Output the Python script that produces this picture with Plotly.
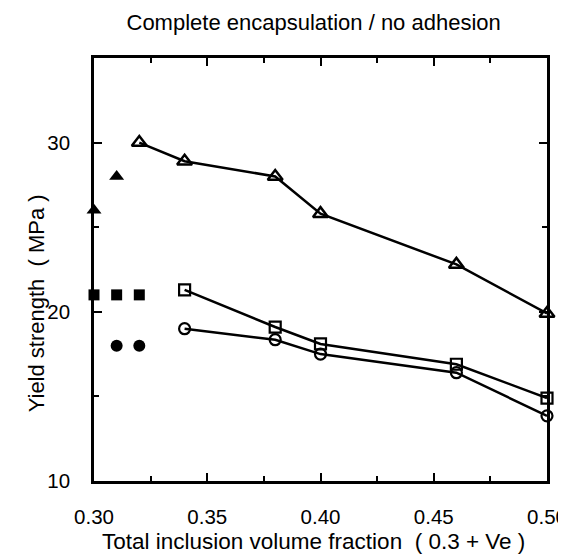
import plotly.graph_objects as go

# Open symbols (connected series)
x_open = [0.32, 0.34, 0.38, 0.40, 0.46, 0.50]
tri_open = [30.0, 28.9, 28.0, 25.8, 22.8, 19.9]
x_sq = [0.34, 0.38, 0.40, 0.46, 0.50]
sq_open = [21.3, 19.1, 18.1, 16.9, 14.9]
x_ci = [0.34, 0.38, 0.40, 0.46, 0.50]
ci_open = [19.0, 18.35, 17.5, 16.4, 13.85]

# Filled symbols (unconnected)
x_tri_f = [0.30, 0.31]
tri_f = [26.0, 28.0]
x_sq_f = [0.30, 0.31, 0.32]
sq_f = [21.0, 21.0, 21.0]
x_ci_f = [0.31, 0.32]
ci_f = [18.0, 18.0]

x_ticks = [0.30, 0.35, 0.40, 0.45, 0.50]
x_ticklabels = ["0.30", "0.35", "0.40", "0.45", "0.50"]
y_ticks = [10, 20, 30]

FONT = "Liberation Sans, Arial, sans-serif"
fig = go.Figure()

line = dict(color="black", width=2.5)
fig.add_trace(go.Scatter(x=x_open, y=tri_open, mode="lines+markers", line=line,
                         marker=dict(symbol="triangle-up-open", size=13, color="black", line=dict(width=2.5)),
                         cliponaxis=False))
fig.add_trace(go.Scatter(x=x_sq, y=sq_open, mode="lines+markers", line=line,
                         marker=dict(symbol="square-open", size=11, color="black", line=dict(width=2.2)),
                         cliponaxis=False))
fig.add_trace(go.Scatter(x=x_ci, y=ci_open, mode="lines+markers", line=line,
                         marker=dict(symbol="circle-open", size=11, color="black", line=dict(width=2.2)),
                         cliponaxis=False))
fig.add_trace(go.Scatter(x=x_tri_f, y=tri_f, mode="markers",
                         marker=dict(symbol="triangle-up", size=13, color="black"), cliponaxis=False))
fig.add_trace(go.Scatter(x=x_sq_f, y=sq_f, mode="markers",
                         marker=dict(symbol="square", size=11, color="black"), cliponaxis=False))
fig.add_trace(go.Scatter(x=x_ci_f, y=ci_f, mode="markers",
                         marker=dict(symbol="circle", size=12, color="black"), cliponaxis=False))

fig.update_layout(
    width=566, height=554,
    margin=dict(l=86, r=27, t=50, b=81, autoexpand=False),
    paper_bgcolor="white", plot_bgcolor="white",
    showlegend=False,
    font=dict(family=FONT, size=20, color="black"),
    title=dict(text="Complete encapsulation / no adhesion", x=0.54, xanchor="center",
               y=1 - 14 / 554, yanchor="middle", font=dict(size=22, family=FONT, color="black")),
)
fig.update_xaxes(range=[0.30, 0.50], tickvals=x_ticks, ticktext=x_ticklabels,
                 ticks="inside", ticklen=8, tickwidth=2, tickcolor="black",
                 minor=dict(dtick=0.025, ticks="inside", ticklen=5, tickwidth=2, tickcolor="black"),
                 showline=True, linecolor="black", linewidth=2.5, mirror="allticks",
                 showgrid=False, zeroline=False, ticklabelstandoff=16, automargin=False,
                 tickfont=dict(size=20.5, family=FONT, color="black"))
fig.update_yaxes(range=[10, 35], tickvals=y_ticks,
                 ticks="inside", ticklen=8, tickwidth=2, tickcolor="black",
                 minor=dict(dtick=5, ticks="inside", ticklen=5, tickwidth=2, tickcolor="black"),
                 showline=True, linecolor="black", linewidth=2.5, mirror="allticks",
                 showgrid=False, zeroline=False, ticklabelstandoff=17, automargin=False,
                 tickfont=dict(size=20.5, family=FONT, color="black"))
fig.add_annotation(text="Total inclusion volume fraction  ( 0.3 + Ve )", xref="paper", yref="paper",
                   x=0.485, y=-0.142, showarrow=False, xanchor="center", yanchor="middle",
                   font=dict(size=22.5, family=FONT, color="black"))
fig.add_annotation(text="Yield strength  ( MPa )", xref="paper", yref="paper",
                   x=-0.128, y=0.42, textangle=-90, showarrow=False, xanchor="center", yanchor="middle",
                   font=dict(size=22, family=FONT, color="black"))

fig.write_html("out.html")
